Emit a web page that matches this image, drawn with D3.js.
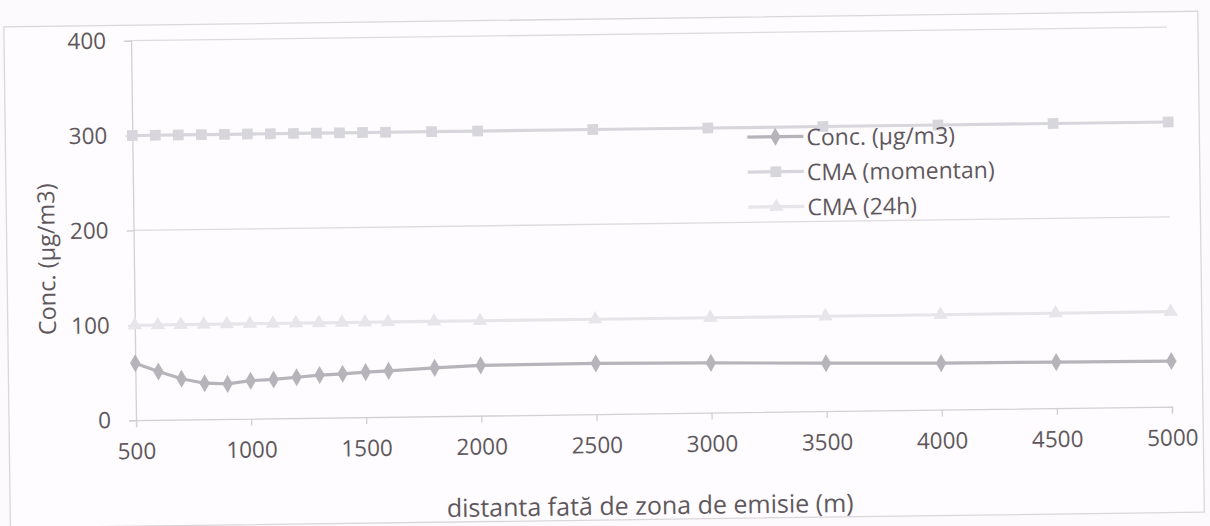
<!DOCTYPE html>
<html>
<head>
<meta charset="utf-8">
<script src="https://cdn.jsdelivr.net/npm/d3@7"></script>
<style>
  html, body { margin: 0; padding: 0; background: #fcfafc; }
  svg { display: block; }
  text { font-family: "Open Sans", "DejaVu Sans", sans-serif; fill: #5e585d; }
</style>
</head>
<body>
<svg id="chart" width="1210" height="526"></svg>
<script>
// Distance from the emission zone (m)
const distances = [500, 600, 700, 800, 900, 1000, 1100, 1200, 1300, 1400, 1500, 1600, 1800, 2000, 2500, 3000, 3500, 4000, 4500, 5000];
// Concentration (µg/m3)
const concValues = [60, 51, 43, 38, 37, 40, 41, 43, 45, 46, 47.5, 48.5, 51, 53, 53.5, 52.5, 50.5, 49, 48.5, 48];
// Maximum admissible concentration, short-term
const cmaMomentan = [300, 300, 300, 300, 300, 300, 300, 300, 300, 300, 300, 300, 300, 300, 300, 300, 300, 300, 300, 300];
// Maximum admissible concentration, 24h
const cma24h = [100, 100, 100, 100, 100, 100, 100, 100, 100, 100, 100, 100, 100, 100, 100, 100, 100, 100, 100, 100];

const xTicks = [500, 1000, 1500, 2000, 2500, 3000, 3500, 4000, 4500, 5000];
const yTicks = [0, 100, 200, 300, 400];

const seriesNames = ["Conc. (µg/m3)", "CMA (momentan)", "CMA (24h)"];
const seriesValues = [concValues, cmaMomentan, cma24h];
const seriesColors = ["#b7b3bb", "#d8d6dd", "#e7e5ea"];
const seriesSymbols = [d3.symbolDiamond, d3.symbolSquare, d3.symbolTriangle];
const symbolSizes = [95, 115, 90];

const svg = d3.select("#chart");
// the printed figure sits at a slight angle
const root = svg.append("g").attr("transform", "rotate(-0.75, 605, 263)");

// chart frame
root.append("rect")
  .attr("x", 7).attr("y", 19).attr("width", 1194).attr("height", 501)
  .attr("fill", "#fefcfe").attr("stroke", "#dad7da").attr("stroke-width", 1.3);

const plot = { left: 134, right: 1170, top: 34.5, bottom: 414 };

const x = d3.scaleLinear().domain([500, 5000]).range([plot.left, plot.right]);
const y = d3.scaleLinear().domain([0, 400]).range([plot.bottom, plot.top]);

// horizontal gridlines
root.append("g")
  .selectAll("line")
  .data(yTicks.filter(v => v > 0))
  .join("line")
  .attr("x1", plot.left).attr("x2", plot.right)
  .attr("y1", d => y(d)).attr("y2", d => y(d))
  .attr("stroke", "#dedbdf").attr("stroke-width", 1.3);

// x axis
const xAxis = root.append("g")
  .attr("transform", `translate(0,${plot.bottom})`)
  .call(d3.axisBottom(x).tickValues(xTicks).tickSize(7).tickPadding(16).tickFormat(d3.format("d")));
xAxis.select(".domain").attr("stroke", "#d3d0d4").attr("stroke-width", 1.3);
xAxis.selectAll(".tick line").attr("stroke", "#d3d0d4").attr("stroke-width", 1.3);
xAxis.selectAll(".tick text").attr("font-size", 22.5).attr("fill", "#5e585d")
  .attr("font-family", "Open Sans, DejaVu Sans, sans-serif");

// y axis
const yAxis = root.append("g")
  .attr("transform", `translate(${plot.left},0)`)
  .call(d3.axisLeft(y).tickValues(yTicks).tickSize(7).tickPadding(18).tickFormat(d3.format("d")));
yAxis.select(".domain").attr("stroke", "#d3d0d4").attr("stroke-width", 1.3);
yAxis.selectAll(".tick line").attr("stroke", "#d3d0d4").attr("stroke-width", 1.3);
yAxis.selectAll(".tick text").attr("font-size", 22.5).attr("fill", "#5e585d")
  .attr("font-family", "Open Sans, DejaVu Sans, sans-serif");

// series lines and markers (lightest drawn first)
const line = d3.line().x((d, i) => x(distances[i])).y(d => y(d));
for (let s = seriesValues.length - 1; s >= 0; s--) {
  const g = root.append("g");
  g.append("path")
    .attr("d", line(seriesValues[s]))
    .attr("fill", "none")
    .attr("stroke", seriesColors[s])
    .attr("stroke-width", 3.2);
  g.selectAll("path.marker")
    .data(seriesValues[s])
    .join("path")
    .attr("class", "marker")
    .attr("d", d3.symbol().type(seriesSymbols[s]).size(symbolSizes[s]))
    .attr("transform", (d, i) => `translate(${x(distances[i])},${y(d)})`)
    .attr("fill", seriesColors[s]);
}

// legend
const legend = root.append("g");
const rowY = [139, 174, 209];
seriesNames.forEach((name, s) => {
  const r = legend.append("g").attr("transform", `translate(749,${rowY[s]})`);
  r.append("line").attr("x1", 0).attr("x2", 56).attr("y1", 0).attr("y2", 0)
    .attr("stroke", seriesColors[s]).attr("stroke-width", 3.2);
  r.append("path")
    .attr("d", d3.symbol().type(seriesSymbols[s]).size(symbolSizes[s]))
    .attr("transform", "translate(28,0)")
    .attr("fill", seriesColors[s]);
  r.append("text").attr("x", 59).attr("y", 0)
    .attr("dominant-baseline", "central")
    .attr("font-size", 23)
    .text(name);
});

// axis titles
root.append("text")
  .attr("x", (plot.left + plot.right) / 2 - 5).attr("y", 515)
  .attr("text-anchor", "middle")
  .attr("font-size", 25)
  .text("distanta fată de zona de emisie (m)");

root.append("text")
  .attr("transform", "translate(46,252) rotate(-90)")
  .attr("text-anchor", "middle")
  .attr("dominant-baseline", "central")
  .attr("font-size", 23.5)
  .text("Conc. (µg/m3)");
</script>
</body>
</html>
